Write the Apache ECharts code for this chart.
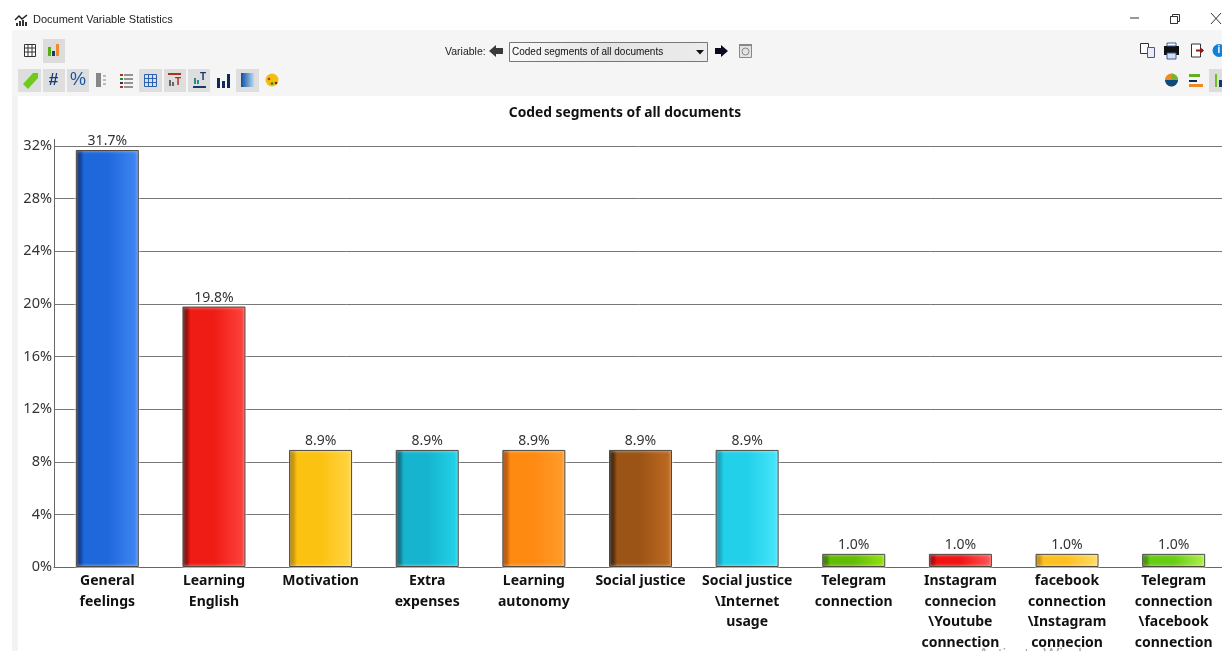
<!DOCTYPE html>
<html><head><meta charset="utf-8">
<style>html,body{margin:0;padding:0;background:#fff;overflow:hidden}#c{width:1222px;height:651px}</style>
<script src="https://cdn.jsdelivr.net/npm/echarts@6/dist/echarts.min.js"></script>
</head><body><div id="c"></div>
<script>
const categories = ["General\nfeelings","Learning\nEnglish","Motivation","Extra\nexpenses","Learning\nautonomy","Social justice","Social justice\n\\Internet\nusage","Telegram\nconnection","Instagram\nconnecion\n\\Youtube\nconnection","facebook\nconnection\n\\Instagram\nconnecion","Telegram\nconnection\n\\facebook\nconnection"];
const percentages = [31.7,19.8,8.9,8.9,8.9,8.9,8.9,1.0,1.0,1.0,1.0];
const barEdge  = ["#021a4c","#3f0000","#9a6e00","#043f4c","#8c3200","#0a0400","#0b7f96","#1f5400","#6a0000","#a07000","#256a00"];
const barMid   = ["#1e68dc","#ee1c14","#fcc212","#16b4ce","#ff8a12","#9c5416","#22d0ea","#62bc04","#f01414","#fcc020","#66cc14"];
const barLight = ["#4288f4","#ff4440","#ffd544","#22d4ea","#ff9c2c","#c06c22","#48e6fb","#94e214","#ff5858","#ffdc68","#aef04c"];
const yTicks = {min:0,max:32.5,interval:4};
const titleText = "Coded segments of all documents";
const font = '"Noto Sans","Open Sans",sans-serif';
const uiFont = '"Liberation Sans",sans-serif';

const gfx = [];
const rect=(x,y,w,h,fill,stroke)=>gfx.push({type:'rect',silent:true,shape:{x,y,width:w,height:h},style:{fill:fill||'none',stroke:stroke||null,lineWidth:1}});
const line=(x1,y1,x2,y2,c,w)=>gfx.push({type:'line',silent:true,shape:{x1,y1,x2,y2},style:{stroke:c,lineWidth:w||1}});
const poly=(pts,fill)=>gfx.push({type:'polygon',silent:true,shape:{points:pts},style:{fill}});
const circ=(cx,cy,r,fill)=>gfx.push({type:'circle',silent:true,shape:{cx,cy,r},style:{fill}});
const txt=(x,y,t,size,c,weight,align,fam)=>gfx.push({type:'text',silent:true,x,y,style:{text:t,fontSize:size,fill:c,fontWeight:weight||'normal',fontFamily:fam||uiFont,align:align||'left',verticalAlign:'middle'}});

// window frame and toolbars
rect(12,30,1210,66,'#f5f5f5');
rect(12,96,6,555,'#f3f3f3');
// title bar
[[16,23,2,3],[19,21,2,5],[22,20,2,6],[25,22,2,4]].forEach(b=>rect(b[0],b[1],b[2],b[3],'#333'));
gfx.push({type:'polyline',silent:true,shape:{points:[[15,20],[19,16],[22,19],[27,15]]},style:{stroke:'#222',lineWidth:1.5,fill:'none'}});
txt(33,19.5,'Document Variable Statistics',11,'#222');
line(1130,18,1139,18,'#333');
rect(1170.5,16.5,7,7,'#fff','#333');rect(1172.5,14.5,7,7,null,'#333');rect(1170.5,16.5,7,7,'#fff','#333');
line(1211,13,1221,24,'#333');line(1221,13,1211,24,'#333');
// row 1
rect(24.5,44.5,11,12,'#fff','#333');line(24,48,36,48,'#333');line(24,52,36,52,'#333');line(28,44,28,57,'#333');line(32,44,32,57,'#333');
rect(43,39,22,24,'#dcdcdc');rect(48,47,3,9,'#55b010');rect(52,51,3,5,'#123a6e');rect(56,44,3,12,'#f08a30');
// row 2 buttons
[[18,69,23,23],[43,69,22,23],[67,69,22,23],[139,69,23,23],[164,69,22,23],[188,69,22,23],[236,69,23,23]].forEach(b=>rect(b[0],b[1],b[2],b[3],'#dedede'));
poly([[23,84],[33,73],[38,73],[38,78],[28,89]],'#6ecb1e');
txt(53.5,80,'#',17,'#0e3f7a','bold','center');
txt(78,80,'%',18,'#15569e','normal','center');
rect(96,73,5,14,'#888');[75,79,83].forEach(y=>rect(103,y,3,2,'#bbb'));
[74,78,82,86].forEach((y,i)=>{rect(120,y,3,2,['#a33','#383','#333','#a33'][i]);line(124,y+1,133,y+1,'#333');});
rect(144.5,74.5,12,12,null,'#2a62b0');line(148.5,74,148.5,87,'#2a62b0');line(152.5,74,152.5,87,'#2a62b0');line(144,78.5,157,78.5,'#2a62b0');line(144,82.5,157,82.5,'#2a62b0');
rect(168,73,13,2,'#a8341a');rect(169,80,2,6,'#666');rect(172,82,2,4,'#666');txt(178,82,'T',10,'#a8341a','bold','center');
rect(193,86,13,2,'#15386e');rect(194,78,2,6,'#2a8a8a');rect(197,80,2,4,'#2a8a8a');txt(203,77,'T',10,'#15386e','bold','center');
rect(217,78,3,10,'#0c2a5a');rect(222,81,3,7,'#0c2a5a');rect(227,74,3,14,'#0c2a5a');
gfx.push({type:'rect',silent:true,shape:{x:241,y:73,width:13,height:14},style:{fill:new echarts.graphic.LinearGradient(0,0,1,0,[{offset:0,color:'#0c4f9e'},{offset:1,color:'#bcd8f0'}])}});
circ(272,80,6.5,'#f0c010');circ(269,79,1.3,'#c03020');circ(272,83.5,1.3,'#208030');circ(276,83,1.3,'#802010');
// variable selector
txt(445,52.5,'Variable:',10.5,'#222');
poly([[489,51],[496,45],[496,48],[503,48],[503,54],[496,54],[496,57]],'#3a3a3a');
gfx.push({type:'rect',silent:true,shape:{x:509.5,y:42.5,width:198,height:19},style:{stroke:'#777',lineWidth:1,fill:new echarts.graphic.LinearGradient(0,0,1,0,[{offset:0,color:'#fafafa'},{offset:0.5,color:'#e4e4e4'},{offset:1,color:'#ececec'}])}});
txt(512,52.5,titleText,10,'#111');
poly([[696,50],[704,50],[700,54.5]],'#111');
poly([[728,51],[721,45],[721,48],[715,48],[715,54],[721,54],[721,57]],'#0a0a20');
rect(739.5,44.5,12,13,'#e4e4e4','#888');rect(739,44,13,2,'#888');gfx.push({type:'circle',silent:true,shape:{cx:745.5,cy:51.5,r:3.5},style:{fill:'none',stroke:'#888',lineWidth:1}});
// right icons
rect(1140.5,43.5,8,10,'#fff','#333');rect(1147.5,47.5,7,10,'#e8ecf4','#557');
rect(1164,46,15,9,'#111');rect(1167,43,9,3,'#fff','#3a5a9a');rect(1167,53,9,6,'#cfe0f2','#3a5a9a');
rect(1191.5,44,9,13,'#fff','#333');line(1196,50.5,1203,50.5,'#8a1a1a',2);poly([[1200,47],[1204,50.5],[1200,54]],'#8a1a1a');
circ(1219,50.5,6.5,'#1080d8');txt(1219,50.5,'i',10,'#fff','bold','center');
circ(1171.5,80,6.5,'#f08a20');gfx.push({type:'sector',silent:true,shape:{cx:1171.5,cy:80,r:6.5,r0:0,startAngle:0,endAngle:Math.PI},style:{fill:'#0c4a80'}});gfx.push({type:'sector',silent:true,shape:{cx:1171.5,cy:80,r:6.5,r0:0,startAngle:-Math.PI/2,endAngle:0},style:{fill:'#70b830'}});
rect(1189,74,11,3,'#66b020');rect(1189,80,8,2,'#0c2a5a');rect(1189,84,14,3,'#f08a20');
rect(1209,69,13,23,'#dcdcdc');rect(1215,74,2,13,'#70c020');rect(1219,80,3,7,'#123a6e');
// faint system watermark, clipped by the bottom edge
txt(978,655,'Activate Windows',17,'#a8a8a8');

const seriesData = percentages.map((v,i)=>({
  value:v,
  itemStyle:{
    color:new echarts.graphic.LinearGradient(0,0,1,0,[
      {offset:0,color:barEdge[i]},{offset:0.13,color:barMid[i]},{offset:0.5,color:barMid[i]},{offset:1,color:barLight[i]}]),
    borderColor:'#4e4a42',borderWidth:1,shadowColor:'#fff',shadowBlur:3
  }
}));

const chart = echarts.init(document.getElementById('c'),null,{renderer:'canvas'});
chart.setOption({
  animation:false,
  backgroundColor:'#fff',
  title:{text:titleText,left:620,top:98,textAlign:'center',textVerticalAlign:'top',textStyle:{fontFamily:font,fontSize:13.8,fontWeight:'bold',color:'#111',lineHeight:20}},
  grid:{left:54,top:139.5,width:1173,height:427.5,outerBoundsMode:'none'},
  xAxis:{type:'category',data:categories,
    axisLine:{lineStyle:{color:'#666',width:1}},axisTick:{show:false},
    axisLabel:{interval:0,margin:4,fontFamily:font,fontSize:14,fontWeight:'bold',color:'#111',lineHeight:20.5,verticalAlign:'top'}},
  yAxis:{type:'value',min:yTicks.min,max:yTicks.max,interval:yTicks.interval,
    axisLine:{show:true,lineStyle:{color:'#666'}},axisTick:{show:false},
    splitLine:{show:true,showMaxLine:false,lineStyle:{color:'#777',width:1}},
    axisLabel:{showMaxLabel:false,margin:2,fontFamily:font,fontSize:14.5,color:'#333',formatter:v=>v+'%'}},
  series:[{type:'bar',data:seriesData,barWidth:63,z:3,
    label:{show:true,position:'top',distance:2,fontFamily:font,fontSize:14,color:'#333',formatter:p=>p.value.toFixed(1)+'%'}}],
  graphic:gfx
});
</script></body></html>
